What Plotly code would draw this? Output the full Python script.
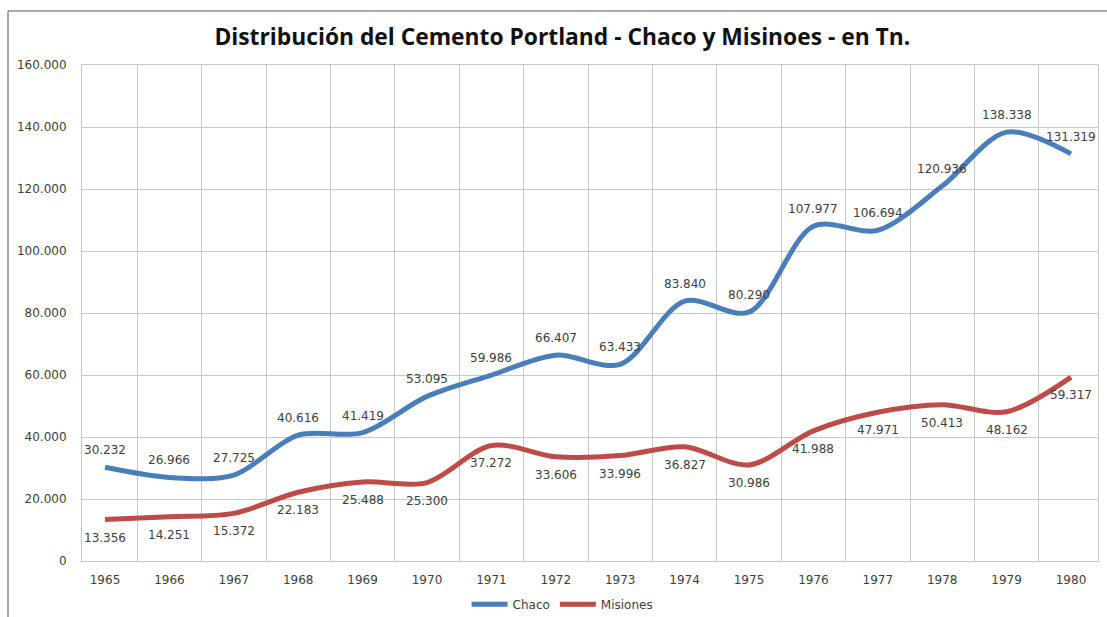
import plotly.graph_objects as go

years = ["1965", "1966", "1967", "1968", "1969", "1970", "1971", "1972",
         "1973", "1974", "1975", "1976", "1977", "1978", "1979", "1980"]
chaco = [30232, 26966, 27725, 40616, 41419, 53095, 59986, 66407,
         63433, 83840, 80290, 107977, 106694, 120936, 138338, 131319]
misiones = [13356, 14251, 15372, 22183, 25488, 25300, 37272, 33606,
            33996, 36827, 30986, 41988, 47971, 50413, 48162, 59317]

title_text = "Distribución del Cemento Portland - Chaco y Misinoes - en Tn."
BLUE = "#4A7EBB"
RED = "#BE4B48"


def fmt(v):
    return f"{v:,}".replace(",", ".")


fig = go.Figure()
fig.add_trace(go.Scatter(x=years, y=chaco, name="Chaco", mode="lines",
                         line=dict(color=BLUE, width=5, shape="spline", smoothing=0.9)))
fig.add_trace(go.Scatter(x=years, y=misiones, name="Misiones", mode="lines",
                         line=dict(color=RED, width=5, shape="spline", smoothing=0.9)))

annotations = []
for i, v in enumerate(chaco):
    annotations.append(dict(x=i, y=v, text=fmt(v), showarrow=False, yshift=17,
                            font=dict(family="DejaVu Sans", size=12, color="#404040")))
for i, v in enumerate(misiones):
    annotations.append(dict(x=i, y=v, text=fmt(v), showarrow=False, yshift=-18,
                            font=dict(family="DejaVu Sans", size=12, color="#404040")))

x_border = (8 - 82) / 1016
y_border = 1 + (65 - 11) / 496
border = dict(color="#8c8c8c", width=1.5)

fig.update_layout(
    width=1107, height=617,
    margin=dict(l=82, r=9, t=65, b=56, autoexpand=False),
    paper_bgcolor="white", plot_bgcolor="white",
    separators=",.",
    title=dict(text="<b>" + title_text + "</b>", x=0.508, xanchor="center",
               y=1 - 37 / 617, yanchor="middle",
               font=dict(family="Open Sans", size=22.8, color="#111111")),
    showlegend=True,
    legend=dict(orientation="h", x=0.473, xanchor="center", y=-0.087, yanchor="middle",
                font=dict(family="DejaVu Sans", size=12, color="#404040"),
                itemwidth=36, tracegroupgap=0),
    annotations=annotations,
    shapes=[
        dict(type="line", xref="paper", yref="paper", x0=x_border, x1=1.05,
             y0=y_border, y1=y_border, line=border, layer="above"),
        dict(type="line", xref="paper", yref="paper", x0=x_border, x1=x_border,
             y0=-0.2, y1=y_border, line=border, layer="above"),
    ],
)
fig.update_xaxes(type="category", tickson="boundaries", showgrid=True, automargin=False,
                 gridcolor="#c8c8c8", gridwidth=1, ticks="", showline=True,
                 linecolor="#c8c8c8", mirror=True, ticklabelstandoff=8,
                 tickfont=dict(family="DejaVu Sans", size=12, color="#404040"))
fig.update_yaxes(range=[0, 160000], dtick=20000, tickformat=",.0f", showgrid=True,
                 automargin=False,
                 gridcolor="#c8c8c8", gridwidth=1, ticks="", showline=True,
                 linecolor="#c8c8c8", mirror=True, zeroline=False, ticklabelstandoff=12,
                 tickfont=dict(family="DejaVu Sans", size=12, color="#404040"))

fig.write_html("out.html", config={"displayModeBar": False},
               post_script="document.body.style.margin='0';document.body.style.overflow='hidden';")
